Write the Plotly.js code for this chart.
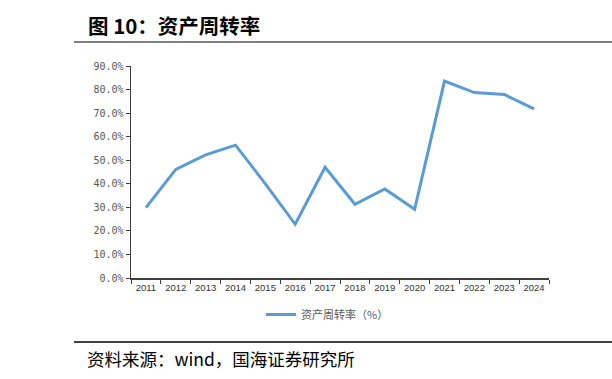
<!DOCTYPE html>
<html>
<head>
<meta charset="utf-8">
<script src="https://cdn.plot.ly/plotly-3.0.1.min.js"></script>
<style>html,body{margin:0;padding:0;background:#fff;}#chart{width:612px;height:379px;}</style>
</head>
<body>
<div id="chart"></div>
<script>
const years = ["2011","2012","2013","2014","2015","2016","2017","2018","2019","2020","2021","2022","2023","2024"];
const turnover = [29.9, 46.1, 52.3, 56.4, 40.0, 22.8, 47.0, 31.3, 37.8, 29.2, 83.6, 78.7, 77.9, 71.8];
const seriesName = "资产周转率（%）";
const titleText = "图 10：资产周转率";
const sourceText = "资料来源：wind，国海证券研究所";
const yTicks = [0,10,20,30,40,50,60,70,80,90];

// plot area in pixels
const L = 131, R = 549, T = 66, B = 278;
const px = x => (x - L) / (R - L);
const py = y => (B - y) / (B - T);

const trace = {
  x: years, y: turnover, type: "scatter", mode: "lines", name: seriesName,
  line: {color: "#5b9bd5", width: 3}
};

const layout = {
  width: 612, height: 379,
  margin: {l: L, r: 612 - R, t: T, b: 379 - B},
  paper_bgcolor: "#fff", plot_bgcolor: "#fff",
  showlegend: true,
  legend: {orientation: "h", x: px(261), xanchor: "left", y: py(300), yanchor: "top",
    font: {family: "Noto Sans CJK SC", size: 11, color: "#595959"}, itemwidth: 30},
  xaxis: {
    type: "category", range: [-0.5, 13.5], showgrid: false, zeroline: false,
    showline: true, linecolor: "#404040", linewidth: 1.5,
    ticks: "outside", tickson: "boundaries", ticklen: 4, tickcolor: "#404040",
    tickangle: 0,
    tickfont: {family: "Liberation Sans, Arial", size: 9.5, color: "#333"}
  },
  yaxis: {
    range: [0, 90], showgrid: false, zeroline: false,
    showline: true, linecolor: "#404040", linewidth: 1.5,
    ticks: "outside", ticklen: 4, tickcolor: "#404040",
    tickvals: yTicks, ticktext: yTicks.map(v => v.toFixed(1) + "%"),
    tickfont: {family: "DejaVu Sans Mono, monospace", size: 10, color: "#595959"}
  },
  shapes: [
    {type: "line", xref: "paper", yref: "paper", x0: px(74), x1: px(612), y0: py(42), y1: py(42),
     line: {color: "#808080", width: 2}},
    {type: "line", xref: "paper", yref: "paper", x0: px(74), x1: px(612), y0: py(342), y1: py(342),
     line: {color: "#000", width: 1.5}}
  ],
  annotations: [
    {text: "<b>" + titleText + "</b>", xref: "paper", yref: "paper", x: px(86), y: py(25),
     xanchor: "left", yanchor: "middle", showarrow: false,
     font: {family: "Noto Sans CJK SC", size: 20.5, color: "#000"}},
    {text: sourceText, xref: "paper", yref: "paper", x: px(85), y: py(358),
     xanchor: "left", yanchor: "middle", showarrow: false,
     font: {family: "Noto Sans CJK SC", size: 17.5, color: "#000"}}
  ]
};

Plotly.newPlot("chart", [trace], layout, {displayModeBar: false, staticPlot: true});
</script>
</body>
</html>
